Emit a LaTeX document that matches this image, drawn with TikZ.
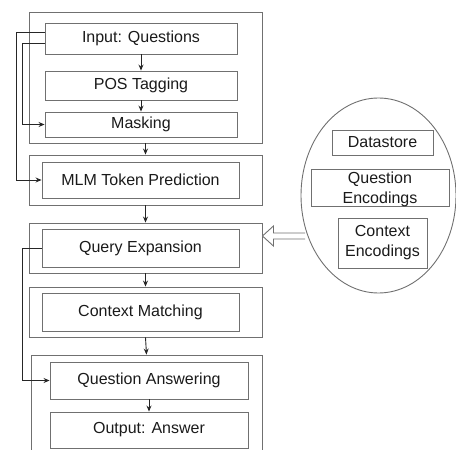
\documentclass[tikz,border=0pt]{standalone}
\usepackage{fontspec}
\setmainfont{Liberation Sans}
\usetikzlibrary{arrows.meta,shapes.geometric}
\definecolor{boxgray}{HTML}{707070}
\definecolor{txt}{HTML}{1A1A1A}
\begin{document}
\begin{tikzpicture}[x=1pt,y=-1pt,
  outerbox/.style={draw=boxgray,line width=0.9pt,inner sep=0pt,minimum width=233pt},
  innerbox/.style={draw=boxgray,line width=0.9pt,inner sep=0pt,text=txt,font=\fontsize{16}{20}\selectfont,align=center},
  conn/.style={draw=black!85,line width=0.9pt,-{Stealth[length=6pt,width=5pt]}},
  every node/.style={anchor=center}]
\useasboundingbox (0,0) rectangle (456,450);
% outer group boxes
\node[outerbox,minimum height=131pt] (o1) at (145.5,77.5) {};
\node[outerbox,minimum height=50pt] (o2) at (145.5,180) {};
\node[outerbox,minimum height=50pt] (o3) at (145.5,248) {};
\node[outerbox,minimum height=50pt] (o4) at (145.5,312) {};
\node[outerbox,minimum width=231pt,minimum height=110pt] (o5) at (146.5,410) {};
% inner boxes
\node[innerbox,minimum width=192pt,minimum height=31pt] (in) at (141,38.5) {Input: Questions};
\node[innerbox,minimum width=192pt,minimum height=29pt] (pos) at (141,85.5) {POS Tagging};
\node[innerbox,minimum width=192pt,minimum height=25pt] (mask) at (141,124.5) {Masking};
\node[innerbox,minimum width=197pt,minimum height=36pt] (mlm) at (140.5,180) {MLM Token Prediction};
\node[innerbox,minimum width=197pt,minimum height=38pt] (qe) at (140.5,248) {Query Expansion};
\node[innerbox,minimum width=197pt,minimum height=38pt] (cm) at (140.5,312) {Context Matching};
\node[innerbox,minimum width=198pt,minimum height=37pt] (qa) at (149,380.5) {Question Answering};
\node[innerbox,minimum width=198pt,minimum height=36pt] (out) at (149,430) {Output: Answer};
% datastore ellipse
\node[ellipse,draw=boxgray,line width=0.9pt,minimum width=155pt,minimum height=195pt,inner sep=0pt] (ds) at (378.5,195.5) {};
\node[innerbox,minimum width=101pt,minimum height=25pt] (dst) at (382.5,142.5) {Datastore};
\draw[boxgray,line width=0.9pt] (311,169) rectangle (449,206);
\node[text=txt,font=\fontsize{16}{20}\selectfont,align=center,inner sep=0pt] (qenc) at (380,189.5) {Question\\Encodings};
\node[innerbox,minimum width=89pt,minimum height=50pt] (cenc) at (382.5,243) {Context\\Encodings};
% vertical arrows
\draw[conn] (in.south) -- (pos.north);
\draw[conn] (pos.south) -- (mask.north);
\draw[conn] (o1.south) -- (o2.north);
\draw[conn] (o2.south) -- (o3.north);
\draw[conn] (o3.south) -- (o4.north);
\draw[conn] (o4.south) -- (o5.north);
\draw[conn] (qa.south) -- (out.north);
% side connectors
\draw[conn] ([yshift=6.5pt]in.west) -- ++(-28,0) |- (mlm.west);
\draw[conn] ([yshift=-4.5pt]in.west) -- ++(-22,0) |- (mask.west);
\draw[conn] (qe.west) -- ++(-19,0) |- (qa.west);
% hollow arrow from datastore to query expansion group
\coordinate (tip) at (o3.east |- 0,236);
\coordinate (tail) at (305,236);
\draw[draw=boxgray,fill=white,line width=0.9pt,line join=miter]
  ([yshift=3pt]tail) -- ([xshift=11pt,yshift=3pt]tip) -- ([xshift=11pt,yshift=10pt]tip)
  -- (tip) -- ([xshift=11pt,yshift=-10pt]tip) -- ([xshift=11pt,yshift=-3pt]tip) -- ([yshift=-3pt]tail);
\end{tikzpicture}
\end{document}
